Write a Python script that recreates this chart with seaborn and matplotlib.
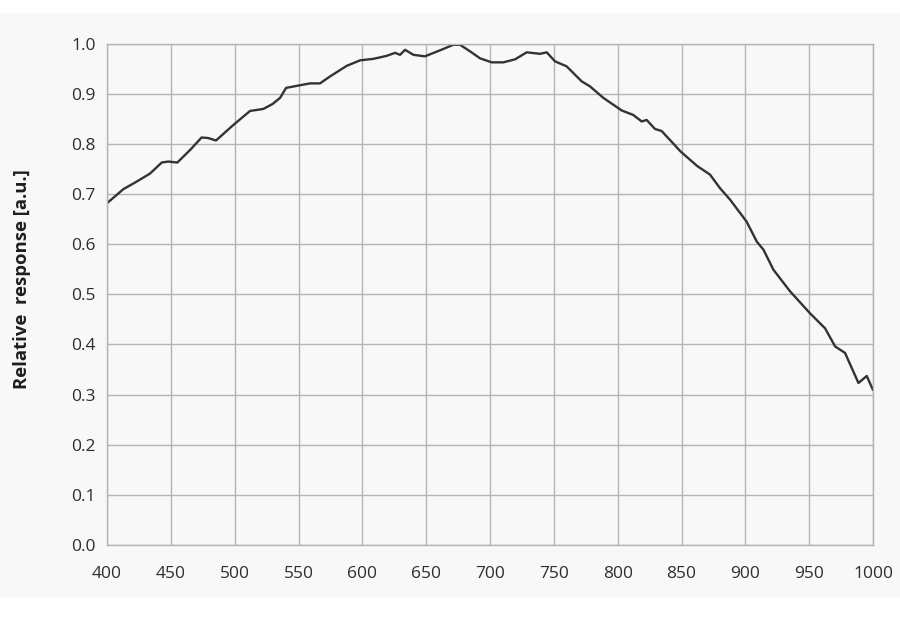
import numpy as np
import pandas as pd
import seaborn as sns
import matplotlib.pyplot as plt
from matplotlib.patches import Rectangle

# wavelength [nm] and relative response
wavelength = [400, 412.8, 423.2, 433.6, 442.8, 448, 455, 465, 474, 479, 485.3,
              498.9, 512, 522.4, 529.7, 535.5, 540.2, 548.5, 559, 566.8, 574.7,
              587.7, 598.2, 608.6, 619.1, 625.6, 629.5, 633.4, 640, 649, 660.8,
              671.2, 676.5, 684.3, 692.2, 701.3, 710.4, 719.6, 728.7, 739.2,
              744.4, 750.9, 760, 771.8, 778.3, 788.8, 803.1, 812.2, 818.8,
              822.7, 829.2, 834.4, 849.3, 862.3, 872.3, 880.1, 888, 901, 909,
              914.2, 922, 935, 950.7, 962.5, 970.3, 978.1, 988.6, 995.1, 1000]
response = [0.682, 0.710, 0.725, 0.741, 0.763, 0.765, 0.763, 0.788, 0.813,
            0.812, 0.807, 0.838, 0.866, 0.870, 0.880, 0.892, 0.912, 0.916,
            0.921, 0.921, 0.935, 0.956, 0.967, 0.970, 0.976, 0.982, 0.978,
            0.988, 0.978, 0.975, 0.987, 0.998, 0.998, 0.985, 0.971, 0.963,
            0.963, 0.969, 0.983, 0.980, 0.983, 0.965, 0.955, 0.925, 0.915,
            0.892, 0.867, 0.858, 0.845, 0.848, 0.830, 0.826, 0.785, 0.756,
            0.739, 0.712, 0.689, 0.645, 0.605, 0.589, 0.549, 0.506, 0.462,
            0.432, 0.396, 0.383, 0.323, 0.337, 0.309]

x_ticks = list(range(400, 1001, 50))
y_ticks = [0.0, 0.1, 0.2, 0.3, 0.4, 0.5, 0.6, 0.7, 0.8, 0.9, 1.0]

df = pd.DataFrame({"wavelength": wavelength, "response": response})

sns.set_theme(style="whitegrid")
plt.rcParams["font.family"] = ["Open Sans", "DejaVu Sans"]

panel = "#f8f8f8"
grid = "#b4b4b4"

fig = plt.figure(figsize=(9, 6.17), dpi=100, facecolor="white")
# light grey band behind everything (white strips top and bottom)
fig.patches.append(Rectangle((0, 0.031), 1, 0.948, transform=fig.transFigure,
                             facecolor=panel, edgecolor="none", zorder=-10))
ax = fig.add_axes([0.119, 0.117, 0.851, 0.812])
ax.set_facecolor(panel)

sns.lineplot(data=df, x="wavelength", y="response", ax=ax,
             color="#333333", linewidth=1.7)

ax.set_xlim(400, 1000)
ax.set_ylim(0, 1.0)
ax.set_xticks(x_ticks)
ax.set_yticks(y_ticks)
ax.set_yticklabels([f"{v:.1f}" for v in y_ticks])
ax.grid(True, color=grid, linewidth=1.0)
for s in ax.spines.values():
    s.set_color(grid)
    s.set_linewidth(1.0)
ax.tick_params(axis="both", length=0, labelsize=12.5, labelcolor="#2e2e2e")
ax.tick_params(axis="x", pad=15)
ax.tick_params(axis="y", pad=8)
ax.set_xlabel("")
ax.set_ylabel("Relative  response [a.u.]", fontsize=13.3, fontweight="bold",
              color="#1e1e1e", labelpad=28)
ax.yaxis.set_label_coords(-0.1, 0.53)

fig.savefig("out.png", dpi=100, facecolor="white")
